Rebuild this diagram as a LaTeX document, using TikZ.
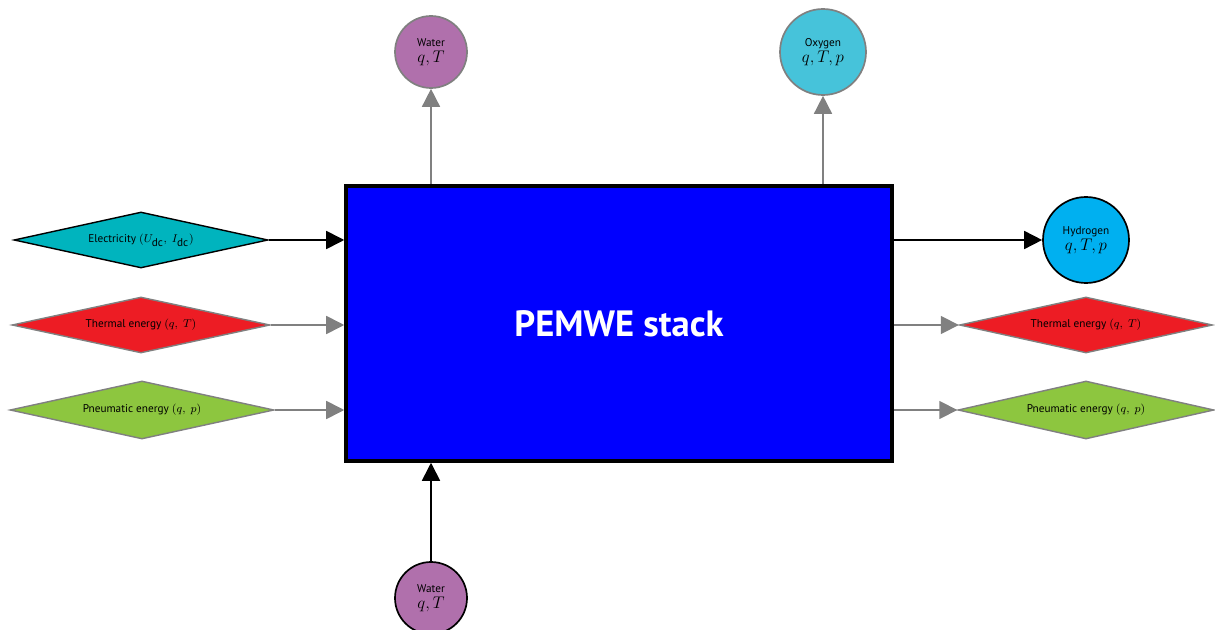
\documentclass[tikz,border=0pt]{standalone}
\usepackage{amsmath}
\usepackage{fontspec}
\setmainfont{PT Sans}
\usetikzlibrary{shapes.geometric,arrows.meta}
\definecolor{stackblue}{RGB}{0,0,255}
\definecolor{electeal}{RGB}{0,180,190}
\definecolor{thermred}{RGB}{237,28,36}
\definecolor{pneugreen}{RGB}{141,198,63}
\definecolor{hydroblue}{RGB}{0,176,240}
\definecolor{oxycyan}{RGB}{70,195,218}
\definecolor{waterpurple}{RGB}{176,112,172}
\definecolor{linegray}{RGB}{128,128,128}
\begin{document}
\begin{tikzpicture}[
  port/.style={diamond,aspect=4.5,inner sep=1pt,draw=linegray,line width=1pt,font=\fontsize{8}{9}\selectfont},
  fluid/.style={circle,inner sep=0pt,draw=linegray,line width=1.2pt,align=center,font=\fontsize{8}{10}\selectfont},
  flow/.style={draw=linegray,line width=1.2pt,-{Triangle[length=0.45cm,width=0.45cm]}},
  mainflow/.style={draw=black,line width=1.2pt,-{Triangle[length=0.45cm,width=0.45cm]}}
]
\useasboundingbox (0,0) rectangle (30.375,15.725);
% stack
\node (stack) at (15.475,7.6375) [rectangle,draw=black,line width=2.5pt,fill=stackblue,minimum width=13.65cm,minimum height=6.875cm,text=white,font=\fontsize{26}{30}\selectfont\bfseries] {PEMWE stack};
% entrées
\node (elec) at (3.525,9.725) [port,draw=black,fill=electeal,minimum width=6.35cm,minimum height=1.4cm] {Electricity $(U_{\mbox{dc}},\ I_{\mbox{dc}})$};
\node (thin) at (3.525,7.6) [port,fill=thermred,minimum width=6.45cm,minimum height=1.4cm] {Thermal energy $(q,\ T)$};
\node (pnin) at (3.55,5.475) [port,fill=pneugreen,minimum width=6.6cm,minimum height=1.45cm] {Pneumatic energy $(q,\ p)$};
\node (win) at (10.775,0.775) [fluid,draw=black,fill=waterpurple,minimum size=1.8cm] {Water\\[1pt] {\large $q,T$}};
% sorties
\node (wout) at (10.775,14.425) [fluid,fill=waterpurple,minimum size=1.8cm] {Water\\[1pt] {\large $q,T$}};
\node (oxy) at (20.575,14.425) [fluid,fill=oxycyan,minimum size=2.15cm] {Oxygen\\[1pt] {\large $q,T,p$}};
\node (hyd) at (27.15,9.725) [fluid,draw=black,fill=hydroblue,minimum size=2.15cm] {Hydrogen\\[1pt] {\large $q,T,p$}};
\node (thout) at (27.15,7.6) [port,fill=thermred,minimum width=6.325cm,minimum height=1.4cm] {Thermal energy $(q,\ T)$};
\node (pnout) at (27.15,5.475) [port,fill=pneugreen,minimum width=6.4cm,minimum height=1.45cm] {Pneumatic energy $(q,\ p)$};
% flèches
\draw [mainflow] (elec.east) -- (elec -| stack.west);
\draw [flow] (thin.east) -- (thin -| stack.west);
\draw [flow] (pnin.east) -- (pnin -| stack.west);
\draw [mainflow] (win.north) -- (win |- stack.south);
\draw [flow] (wout |- stack.north) -- (wout.south);
\draw [flow] (oxy |- stack.north) -- (oxy.south);
\draw [mainflow] (hyd -| stack.east) -- (hyd.west);
\draw [flow] (thout -| stack.east) -- (thout.west);
\draw [flow] (pnout -| stack.east) -- (pnout.west);
\end{tikzpicture}
\end{document}
